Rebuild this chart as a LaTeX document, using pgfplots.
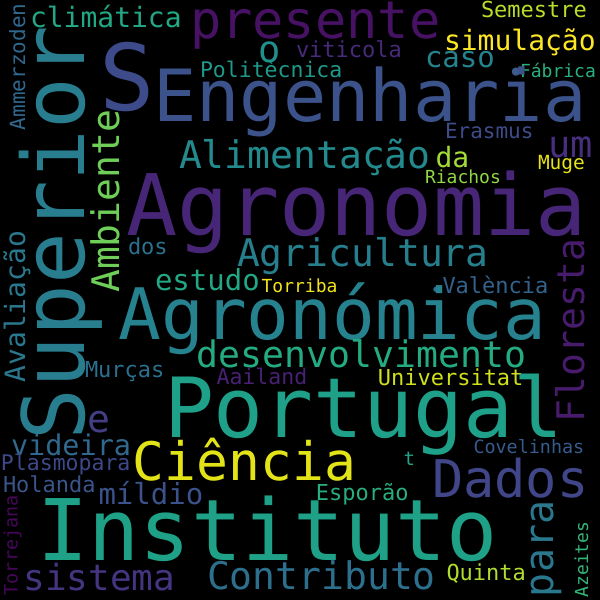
\documentclass[border=0pt]{standalone}
\usepackage{pgfplots}
\pgfplotsset{compat=1.18}
\usepackage{fontspec}
\setmainfont{DejaVu Sans Mono}

\definecolor{vA}{HTML}{471164}% presente
\definecolor{vB}{HTML}{482677}% Agronomia
\definecolor{vC}{HTML}{3B528B}% Engenharia
\definecolor{vD}{HTML}{3E4B8A}% S
\definecolor{vE}{HTML}{287D8E}% Superior
\definecolor{vF}{HTML}{22A884}% climatica
\definecolor{vG}{HTML}{21908D}% o
\definecolor{vH}{HTML}{472A7A}% viticola
\definecolor{vI}{HTML}{FDE725}% simulacao
\definecolor{vJ}{HTML}{25838E}% caso
\definecolor{vK}{HTML}{1F9A8A}% Politecnica
\definecolor{vL}{HTML}{2AB07F}% Fabrica
\definecolor{vM}{HTML}{3F5B8C}% bullet
\definecolor{vN}{HTML}{B8DE29}% Semestre
\definecolor{vO}{HTML}{3E4C8A}% Erasmus
\definecolor{vP}{HTML}{472F7D}% um
\definecolor{vQ}{HTML}{238A8D}% Alimentacao
\definecolor{vR}{HTML}{A5DB36}% da
\definecolor{vS}{HTML}{E5E419}% Muge
\definecolor{vT}{HTML}{8FD744}% Riachos
\definecolor{vU}{HTML}{482878}% bullet purple
\definecolor{vV}{HTML}{31688E}% Ammerzoden
\definecolor{vW}{HTML}{6ECE58}% Ambiente
\definecolor{vX}{HTML}{2C718E}% dos
\definecolor{vY}{HTML}{277F8E}% Agricultura
\definecolor{vZ}{HTML}{F1E51D}% Torriba
\definecolor{wA}{HTML}{33638D}% Valencia
\definecolor{wB}{HTML}{26828E}% Agronomica
\definecolor{wC}{HTML}{2A788E}% Avaliacao
\definecolor{wD}{HTML}{25AB82}% desenvolvimento
\definecolor{wE}{HTML}{481B6D}% Floresta
\definecolor{wF}{HTML}{2D708E}% Murcas
\definecolor{wG}{HTML}{482173}% Aailand
\definecolor{wH}{HTML}{D0E11C}% Universitat
\definecolor{wI}{HTML}{1FA088}% Portugal
\definecolor{wJ}{HTML}{433E85}% e
\definecolor{wK}{HTML}{E2E418}% Ciencia
\definecolor{wL}{HTML}{3E4989}% Plasmopara
\definecolor{wM}{HTML}{3A548C}% Holanda
\definecolor{wN}{HTML}{3B528B}% mildio
\definecolor{wO}{HTML}{404688}% Dados
\definecolor{wP}{HTML}{365C8D}% Covelinhas
\definecolor{wQ}{HTML}{20A386}% t
\definecolor{wR}{HTML}{29AF7F}% Esporao
\definecolor{wS}{HTML}{1FA187}% Instituto
\definecolor{wT}{HTML}{46075A}% Torrejana
\definecolor{wU}{HTML}{453581}% sistema
\definecolor{wV}{HTML}{B0DD2F}% Quinta
\definecolor{wW}{HTML}{34B679}% Azeites

% \W{x}{y}{font size}{rotation}{colour}{word}: x,y = start of baseline, image pixels
\newcommand{\W}[6]{%
  \addplot[draw=none, mark=none, point meta=y, nodes near coords={#6},
    every node near coord/.style={anchor=base west, inner sep=0pt, outer sep=0pt,
      font=\fontsize{#3}{#3}\selectfont, rotate=#4, text=#5}]
    coordinates {(#1,#2)};}

\begin{document}
\begin{tikzpicture}
\begin{axis}[
  scale only axis,
  width=600pt, height=600pt,
  xmin=0, xmax=600, ymin=0, ymax=600,
  y dir=reverse,
  axis line style={draw=none},
  xtick=\empty, ytick=\empty,
  axis background/.style={fill=black},
  clip=false,
]
\W{190}{38}{52}{0}{vA}{presente}
\W{481}{17}{22}{0}{vN}{Semestre}
\W{30}{27}{28}{0}{vF}{climática}
\W{258.7}{62}{37}{0}{vG}{o}
\W{296}{57}{22}{0}{vH}{viticola}
\W{444}{50}{28}{0}{vI}{simulação}
\W{425}{67}{29}{0}{vJ}{caso}
\W{200}{77}{21.5}{0}{vK}{Politècnica}
\W{507.6}{82}{28}{0}{vM}{•}
\W{520}{77}{18}{0}{vL}{Fábrica}
\W{153}{121}{72}{0}{vC}{Engenharia}
\W{99.4}{110}{92}{0}{vD}{S}
\W{445}{138}{21}{0}{vO}{Erasmus}
\W{548}{157}{37}{0}{vP}{um}
\W{179}{168}{38}{0}{vQ}{Alimentação}
\W{435.5}{167}{28}{0}{vR}{da}
\W{538}{169}{19.5}{0}{vS}{Muge}
\W{425}{183}{18}{0}{vT}{Riachos}
\W{502.8}{183.6}{24}{0}{vU}{•}
\W{126}{235}{85}{0}{vB}{Agronomia}
\W{237}{266}{38}{0}{vY}{Agricultura}
\W{128}{254}{22}{0}{vX}{dos}
\W{155}{290}{29}{0}{vF}{estudo}
\W{261.6}{292}{18}{0}{vZ}{Torriba}
\W{430.6}{296}{18}{0}{wF}{•}
\W{442.5}{293}{22}{0}{wA}{València}
\W{118.6}{339}{71}{0}{wB}{Agronómica}
\W{196.7}{367}{36.5}{0}{wD}{desenvolvimento}
\W{85}{377}{22}{0}{wF}{Murças}
\W{216.6}{384}{21.5}{0}{wG}{Aailand}
\W{377.8}{385}{22}{0}{wH}{Universitat}
\W{164}{437}{83}{0}{wI}{Portugal}
\W{87}{432}{38}{0}{wJ}{e}
\W{11}{455}{28.5}{0}{vV}{videira}
\W{132.8}{480}{53}{0}{wK}{Ciência}
\W{1}{470}{21.5}{0}{wL}{Plasmopara}
\W{3}{492}{22}{0}{wM}{Holanda}
\W{98.5}{504}{29}{0}{wN}{míldio}
\W{432}{497}{52}{0}{wO}{Dados}
\W{473.5}{453}{18.4}{0}{wP}{Covelinhas}
\W{403.5}{465}{19}{0}{wQ}{t}
\W{315.8}{500}{22}{0}{wR}{Esporão}
\W{37.5}{560}{85}{0}{wS}{Instituto}
\W{23.4}{590}{36}{0}{wU}{sistema}
\W{207}{589}{38}{0}{wF}{Contributo}
\W{446.5}{580}{22}{0}{wV}{Quinta}
\W{84}{440}{86}{90}{vE}{Superior}
\W{119}{292.8}{38}{90}{vW}{Ambiente}
\W{584}{422}{38}{90}{wE}{Floresta}
\W{25}{382.5}{28}{90}{wC}{Avaliação}
\W{25}{130}{21}{90}{vV}{Ammerzoden}
\W{17.5}{595.4}{18.5}{90}{wT}{Torrejana}
\W{553}{597}{40}{90}{wC}{para}
\W{588}{597.5}{18}{90}{wW}{Azeites}
\coordinate (bl) at (rel axis cs:0,0);
\coordinate (tr) at (rel axis cs:1,1);
\end{axis}
\pgfresetboundingbox
\useasboundingbox (bl) rectangle (tr);
\end{tikzpicture}
\end{document}
